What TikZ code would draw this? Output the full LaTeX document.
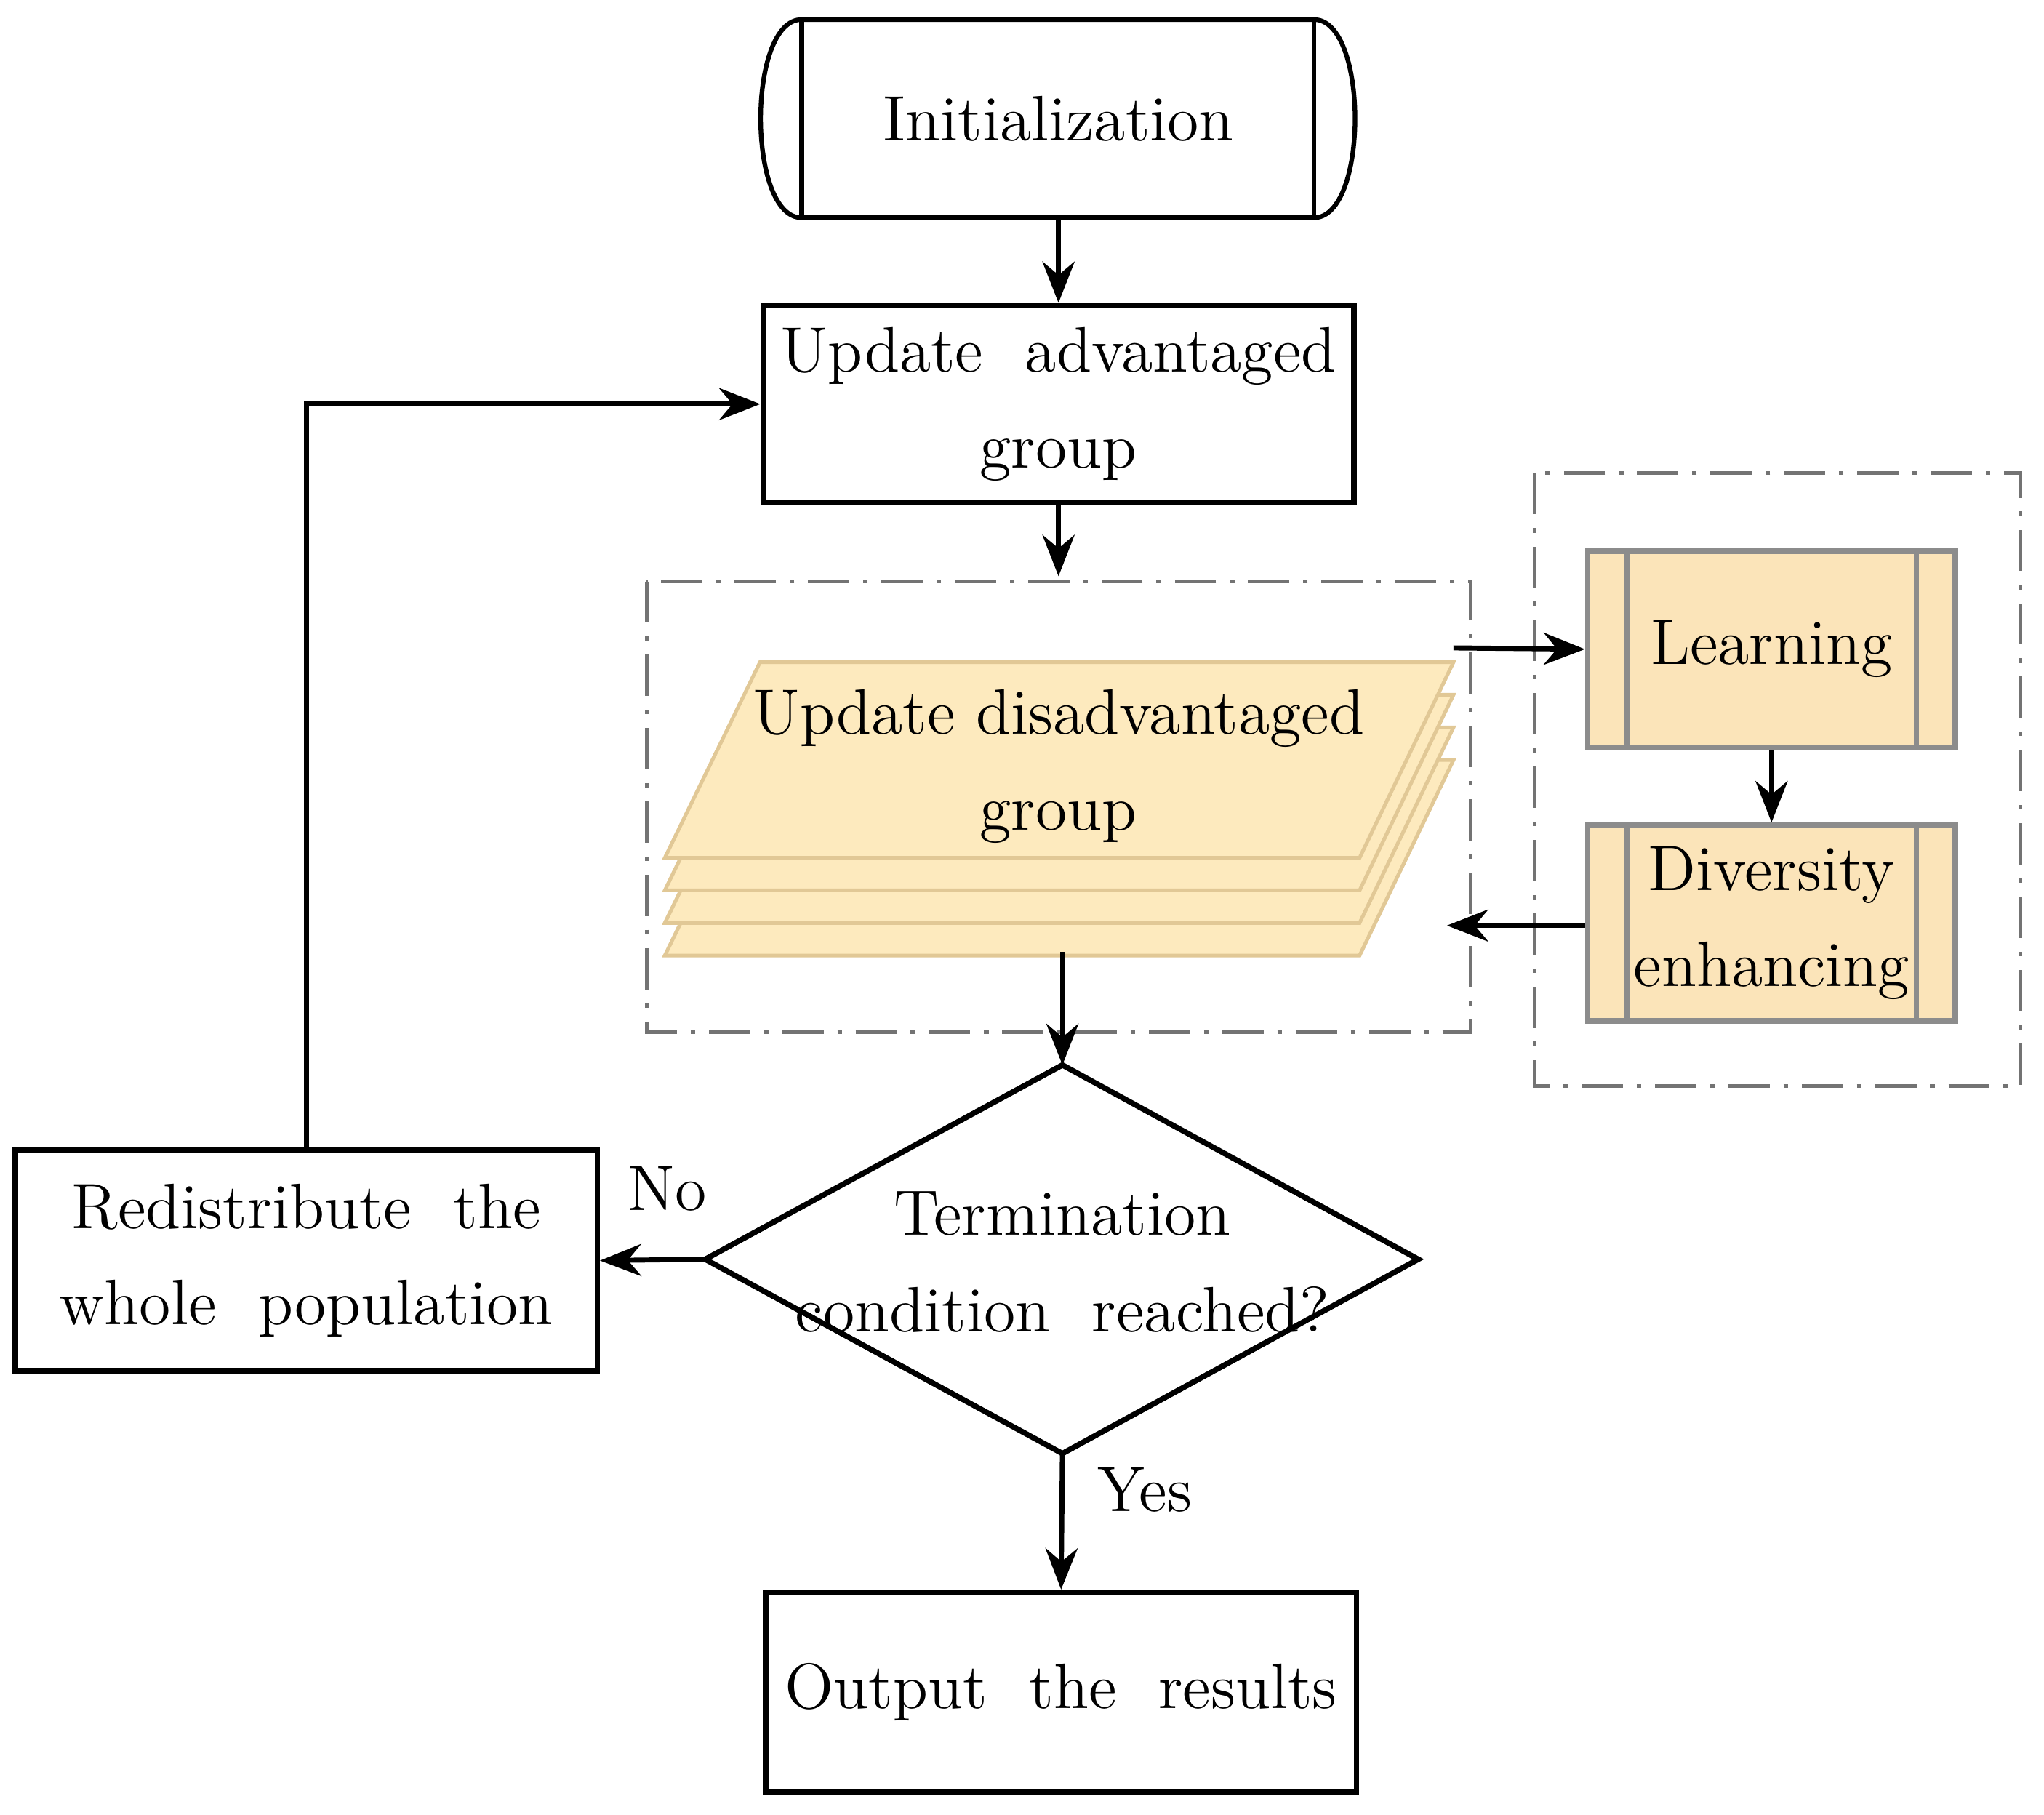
\documentclass[tikz,border=0pt]{standalone}
\usetikzlibrary{arrows.meta,calc}
\definecolor{lay}{RGB}{253,234,190}
\definecolor{layd}{RGB}{225,200,150}
\definecolor{yb}{RGB}{251,228,185}
\begin{document}
\begin{tikzpicture}[x=0.01cm,y=-0.01cm,
  font=\fontsize{14}{21}\selectfont,
  box/.style={draw,line width=1.2pt,fill=white},
  ybox/.style={draw=black!45,line width=1.2pt,fill=yb},
  dd/.style={draw=black!55,line width=0.8pt,dash pattern=on 9pt off 3pt on 1pt off 3pt},
  arr/.style={line width=1.1pt,-{Stealth[length=9pt,width=7pt]}},
  layer/.style={draw=layd,fill=lay,line width=0.8pt}]
\useasboundingbox (0,0) rectangle (1568,1392);
% Initialization
\draw[line width=1pt,fill=white] (615,15) -- (1008,15) .. controls (1050,15) and (1050,167) .. (1008,167) -- (615,167) .. controls (573,167) and (573,15) .. (615,15) -- cycle;
\draw[line width=1pt] (615,15)--(615,167) (1008,15)--(1008,167);
\node[minimum width=4.53cm,minimum height=1.52cm] (init) at (812,91) {Initialization};
% Update advantaged
\node[box,minimum width=4.53cm,minimum height=1.51cm,align=center] (adv) at (812,310) {Update~~advantaged\\group};
% dashed boxes
\draw[dd] (496,446) rectangle (1128,792);
\draw[dd] (1177,363) rectangle (1550,833);
% stacked layers
\foreach \d in {75,50,25,0}{
  \draw[layer] (583,508+\d) -- (1115,508+\d) -- (1043,658+\d) -- (510,658+\d) -- cycle;}
\node[align=center] (dis) at (812,588) {Update disadvantaged\\group};
\coordinate (disR) at (1115,497);
\coordinate (disIn) at (1110,710);
\coordinate (disT) at (812,442);
\coordinate (disB) at (815,730);
% Learning, Diversity
\node[ybox,minimum width=2.82cm,minimum height=1.5cm] (learn) at (1359,498) {Learning};
\draw[black!45,line width=1.2pt] (1248,423)--(1248,573) (1470,423)--(1470,573);
\node[ybox,minimum width=2.82cm,minimum height=1.5cm,align=center] (div) at (1359,708) {Diversity\\enhancing};
\draw[black!45,line width=1.2pt] (1248,633)--(1248,783) (1470,633)--(1470,783);
% diamond
\coordinate (dN) at (815,817);
\coordinate (dS) at (815,1115);
\coordinate (dW) at (541,966);
\coordinate (dE) at (1088,966);
\draw[line width=1.2pt] (dN) -- (dE) -- (dS) -- (dW) -- cycle;
\node[align=center] (dec) at (815,968) {Termination\\condition~~reached?};
% redistribute
\node[box,minimum width=4.46cm,minimum height=1.69cm,align=center] (red) at (235,967) {Redistribute~~the\\whole~~population};
% output
\node[box,minimum width=4.53cm,minimum height=1.53cm] (out) at (814,1298) {Output~~the~~results};
% arrows
\draw[arr] (init.south) -- (adv.north);
\draw[arr] (adv.south) -- (disT);
\draw[arr] (disR) -- (learn.west);
\draw[arr] (learn.south) -- (div.north);
\draw[arr] (div.west |- disIn) -- (disIn);
\draw[arr] (disB) -- (dN);
\draw[arr] (dW) -- (red.east);
\draw[arr] (dS) -- (out.north);
\draw[arr] (red.north) |- (adv.west);
\node (no) at (512,912) {No};
\node (yes) at (878,1143) {Yes};
\end{tikzpicture}
\end{document}
